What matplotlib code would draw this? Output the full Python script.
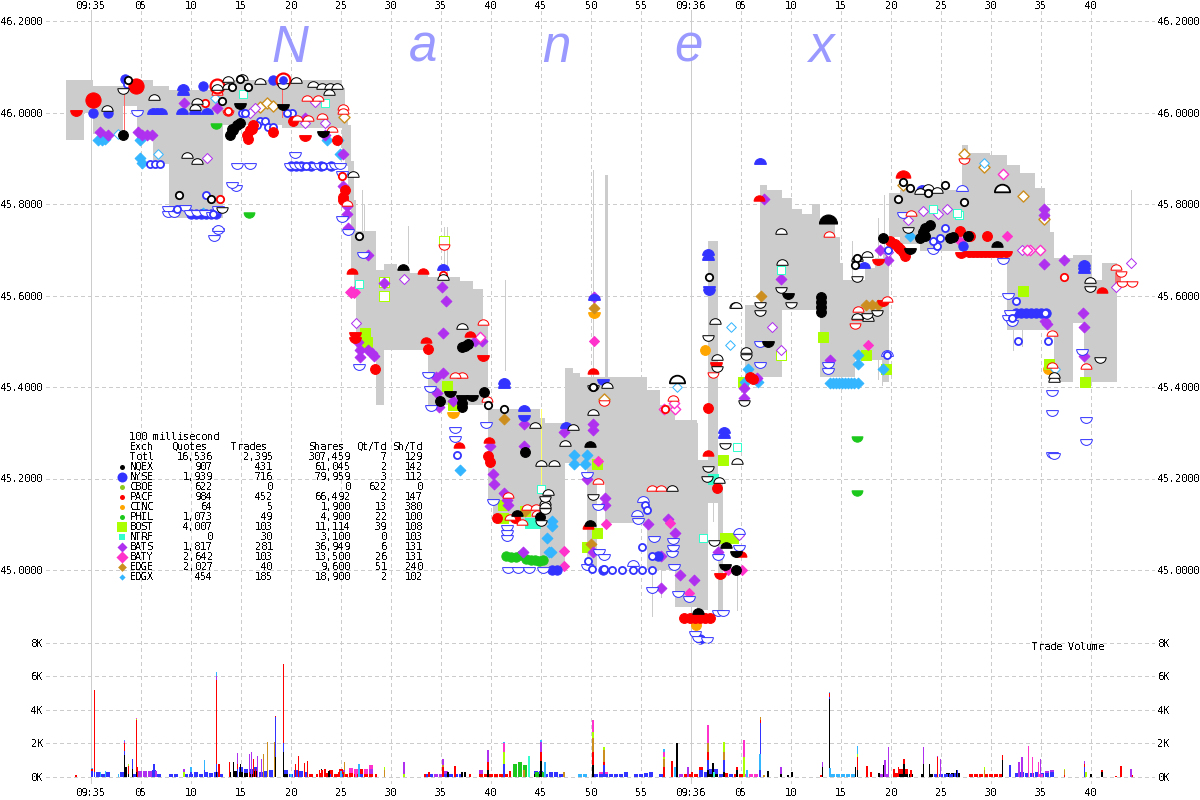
import matplotlib
matplotlib.use('Agg')
import matplotlib.pyplot as plt
import numpy as np
from matplotlib.path import Path

plt.rcParams['font.family'] = ['DejaVu Sans Mono']
plt.rcParams['font.size'] = 7.3
plt.rcParams['text.antialiased'] = False
plt.rcParams['text.hinting_factor'] = 1

# time is seconds after 09:35:00
x_ticks = [0, 5, 10, 15, 20, 25, 30, 35, 40, 45, 50, 55, 60, 65, 70, 75, 80, 85, 90, 95, 100]
x_labels = ['09:35', '05', '10', '15', '20', '25', '30', '35', '40', '45', '50', '55',
            '09:36', '05', '10', '15', '20', '25', '30', '35', '40']
price_ticks = [45.0, 45.2, 45.4, 45.6, 45.8, 46.0, 46.2]
vol_ticks = [0, 2000, 4000, 6000, 8000]

# grey bid/ask band
band_t = [-2.5, -0.7, 0.2, 3.2, 4.6, 6.2, 7.8, 13.2, 19.1, 25.1, 25.4, 25.7, 26, 26.3, 26.5, 28.5, 29.3, 30.6, 31.9,
          33.7, 36.9, 38.2, 39.2, 39.7, 40.2, 44.9, 45.4, 47.4, 48.2, 48.9, 49.6, 50.6, 51.4, 55.6, 56.9, 58.4, 60.6,
          60.7, 61.7, 62.7, 63.2, 64.7, 65.4, 66.9, 67.6, 69.1, 70.1, 71.1, 72.1, 72.9, 74.4, 74.9, 75.2, 76.4, 77.4,
          78.4, 79.2, 79.8, 80.9, 82.9, 87.1, 87.7, 89.9, 91.6, 92.9, 94.4, 95.4, 95.9, 96.3, 98.2, 99.3, 100.1,
          101.1, 102.6, 104.1]
band_hi = [46.07, 46.07, 46.059, 46.059, 46.07, 46.059, 46.05, 46.07, 46.07, 46.053, 46.015, 45.972, 45.895, 45.808,
           45.742, 45.655, 45.669, 45.658, 45.65, 45.64, 45.631, 45.615, 45.545, 45.351, 45.351, 45.332, 45.321,
           45.441, 45.43, 45.421, 45.421, 45.421, 45.421, 45.393, 45.36, 45.327, 45.321, 45.24, 45.72, 45.196, 45.552,
           np.nan, 45.579, 45.841, 45.83, 45.814, 45.79, 45.779, 45.799, 45.757, 45.727, 45.672, 45.633, 45.633, 45.66,
           45.682, 45.693, 45.824, 45.83, 45.83, 45.93, 45.912, 45.907, 45.885, 45.868, 45.835, 45.787, 45.739, 45.682,
           45.688, 45.688, 45.633, 45.67, 45.67, np.nan]
band_lo = [45.939, 45.998, 45.954, 46.015, 45.939, 45.888, 45.77, 45.972, 45.967, 45.917, 45.884, 45.786, 45.655,
           45.611, 45.48, 45.36, 45.48, 45.48, 45.48, 45.36, 45.36, 45.36, 45.382, 45.152, 45.105, 45.007, 45.007,
           45.234, 45.234, 45.234, 45.007, 45.19, 45.103, 45.0, 45.0, 44.919, 44.912, 44.912, 45.147, 44.907, 45.0,
           np.nan, 45.421, 45.421, 45.421, 45.569, 45.569, 45.569, 45.569, 45.421, 45.421, 45.421, 45.421, 45.458,
           45.458, 45.458, 45.41, 45.727, 45.713, 45.698, 45.688, 45.683, 45.683, 45.524, 45.524, 45.524, 45.524,
           45.524, 45.41, 45.539, 45.41, 45.41, 45.41, 45.626, np.nan]
spike_t = [27.1, 27.3, 31.7, 35.3, 35.6, 41.4, 50.2, 51.4, 51.5, 51.6, 76.1, 78.7, 79.3, 104, 92.2, 93.1, 78.7, 79.1,
           56.1, 57, 58.2, 62.2, 64.6]
spike_hi = [45.83, 45.797, 45.752, 45.75, 45.75, 45.634, 45.874, 45.864, 45.864, 45.864, 45.72, 45.769, 45.82, 45.83,
            45.53, 45.53, 45.458, 45.458, 45.0, 45.0, 45.152, 45.152, 45.0]
spike_lo = [45.699, 45.677, 45.67, 45.634, 45.634, 45.437, 45.421, 45.421, 45.421, 45.421, 45.633, 45.677, 45.677,
            45.67, 45.48, 45.49, 45.418, 45.405, 44.9, 44.94, 45.086, 45.108, 44.912]

# NYSE
ny_up_t = [9.2, 9.2, 9.1, 10.4, 11.6, 6.2, 6.6, 7.0, 35.2, 50.3, 41.3, 41.3, 43.3, 61.7, 61.7, 63.3, 63.3, 66.9, 77.3,
           83.1, 47.5, 99.3, 99.3, 99.3]
ny_up_p = [46.055, 46.044, 46.004, 46.004, 46.004, 46.004, 46.004, 46.004, 45.663, 45.596, 45.414, 45.405, 45.355,
           45.694, 45.685, 45.305, 45.294, 45.895, 45.666, 45.834, 45.316, 45.672, 45.664, 45.655]
ny_dn_t = [61.8, 61.8, 43.3, 51.2]
ny_dn_p = [45.615, 45.607, 45.333, 45.41]
ny_dno_t = [4.6, 14.6, 15.9, 14.5, 20.4, 25.1, 25.1, 12.7, 7.7, 7.7, 8.3, 9.4, 9.9, 10.6, 11.4, 12.1, 14.1, 12.3, 12.7,
            19.9, 20.4, 20.9, 21.4, 21.9, 22.4, 22.9, 23.4, 23.9, 24.4, 24.9, 26.8, 36.4, 36.4, 39.5, 33.7, 33.9, 34.0,
            25.7, 27.2, 40.2, 41.6, 41.6, 41.6, 41.7, 42.7, 43.8, 45.2, 49.6, 49.6, 50.7, 50.8, 51.3, 54.7, 56.3, 58.2,
            58.2, 58.1, 58.3, 56.1, 58.7, 59.8, 60.4, 60.7, 61.6, 62.7, 63.2, 62.7, 64.8, 66.9, 66.9, 91.7, 73.7, 73.7,
            91.9, 91.7, 92.1, 99.1, 96.1, 96.1, 96.1, 96.3, 99.5, 99.5, 84.2, 81.2, 91.2]
ny_dno_p = [45.998, 45.884, 45.884, 45.836, 45.907, 45.768, 45.866, 45.79, 45.79, 45.779, 45.779, 45.792, 45.781,
            45.781, 45.781, 45.775, 45.841, 45.725, 45.74, 45.884, 45.884, 45.884, 45.884, 45.884, 45.884, 45.884,
            45.884, 45.884, 45.884, 45.884, 45.444, 45.306, 45.287, 45.317, 45.427, 45.396, 45.355, 45.738, 45.688,
            45.148, 45.091, 45.08, 45.069, 44.999, 44.999, 44.999, 44.999, 45.208, 45.007, 45.137, 45.039, 45.028,
            45.108, 45.067, 45.064, 45.047, 45.036, 45.007, 44.957, 44.948, 44.937, 44.861, 44.85, 44.848, 44.907,
            44.907, 45.028, 45.047, 45.495, 45.447, 45.6, 45.447, 45.436, 45.561, 45.55, 45.539, 45.476, 45.386,
            45.344, 45.251, 45.249, 45.28, 45.327, 45.698, 45.775, 45.676]
ny_upo_t = [12.7, 87.1, 79.6, 55.2, 54.6, 54.2, 64.8]
ny_upo_p = [45.748, 45.834, 45.474, 45.155, 45.124, 45.015, 45.085]
ny_o_t = [3.6, 5.9, 6.4, 6.9, 8.6, 11.5, 12.2, 15.1, 15.4, 16.9, 17.4, 17.7, 18.2, 16.6, 20.1, 19.6, 21.5, 23.2, 36.6,
          49.7, 50.1, 51.3, 52.1, 53.1, 55.1, 56.1, 55.4, 55.6, 54.2, 55.1, 56.1, 92.7, 95.7, 92.1, 92.5, 79.6, 79.7,
          84.9, 84.6, 84.2, 85.4, 95.4]
ny_o_p = [46.063, 45.888, 45.888, 45.888, 45.79, 45.819, 45.779, 46.0, 45.998, 45.982, 45.982, 45.969, 45.969, 45.972,
          46.0, 46.0, 45.884, 45.884, 45.251, 45.02, 45.003, 45.003, 45.0, 45.0, 45.05, 45.03, 45.142, 45.131, 45.0,
          45.0, 45.0, 45.5, 45.5, 45.55, 45.589, 45.47, 45.7, 45.726, 45.709, 45.72, 45.748, 45.561]
ny_f_t = [3.4, 11.2, 18.2, 92.5, 93, 93.5, 94, 94.5, 95, 95.5, 56.7, 87.2, 10, 10.5, 11, 11.5, 12, 12.5, 20, 20.5, 21,
          22, 23, 24, 46.1, 46.6, 51.2, 60.9, 0.2, 1.7]
ny_f_p = [46.074, 46.059, 46.072, 45.561, 45.561, 45.561, 45.561, 45.561, 45.561, 45.561, 45.03, 45.709, 45.779,
          45.779, 45.779, 45.779, 45.779, 45.779, 45.884, 45.884, 45.884, 45.884, 45.884, 45.884, 45.0, 45.0, 45.0,
          44.85, 46.0, 46.0]
ny_top_t = [19.2]
ny_top_p = [46.07]

# NQEX
nq_upo_t = [1.6, 6.3, 9.6, 10.6, 12.6, 13.7, 13.7, 15.1, 16.9, 20.5, 22.2, 23.1, 23.9, 24.6, 23.8, 26.2, 10.4, 10.6,
            37.1, 35.2, 44.4, 48.2, 62.4, 64.4, 51.6, 47.4, 50.2, 62.6, 64.5, 69, 69.1, 76.6, 77.7, 77.6, 76.6, 99.9,
            96.3, 96.3, 65.5, 83.7, 84.6, 82.9, 45.0, 46.3, 58.1, 64.6, 45.7, 45.4, 45.4, 62.8]
nq_upo_p = [46.009, 46.033, 45.908, 45.893, 46.055, 46.074, 46.059, 46.077, 46.068, 46.07, 46.063, 46.059, 46.059,
            46.057, 46.044, 45.866, 46.013, 46.026, 45.534, 45.64, 45.316, 45.312, 45.544, 45.579, 45.405, 45.278,
            45.345, 45.466, 45.579, 45.74, 45.674, 45.556, 45.55, 45.691, 45.683, 45.634, 45.418, 45.427, 45.48,
            45.838, 45.831, 45.829, 45.234, 45.234, 45.179, 45.238, 45.17, 45.148, 45.142, 45.196]
nq_upo_big_t = [58.6, 91.1]
nq_upo_big_p = [45.418, 45.836]
nq_up_t = [31.2, 90.6, 49.9, 63.5, 42.6, 60.7, 49.9]
nq_up_p = [45.663, 45.713, 45.103, 45.055, 45.124, 44.911, 45.276]
nq_up_big_t = [73.7]
nq_up_big_p = [45.768]
nq_dno_t = [19.2, 76.6, 69, 66.9, 66.9, 70, 81.7, 99.9, 100.9, 78.6, 65.5, 65.3, 77.6, 50.2, 61.7, 62.6, 50.2, 62.3,
            45, 45.4, 45.4, 63.4, 61.7, 61.6, 13.1, 3.2]
nq_dno_p = [46.057, 45.635, 45.611, 45.561, 45.579, 45.579, 45.744, 45.615, 45.458, 45.561, 45.465, 45.366, 45.556,
            45.397, 45.508, 45.44, 45.159, 45.059, 45.103, 45.129, 45.155, 45.272, 45.221, 45.2, 45.786, 46.048]
nq_dn_t = [14.9, 19.2, 23.2, 38.1, 37.1, 69.7, 81.9, 67.7, 63.4, 64.5, 35.9]
nq_dn_p = [46.015, 46.013, 45.954, 45.376, 45.376, 45.598, 45.698, 45.495, 45.007, 45.036, 45.385]
nq_o_t = [8.8, 12, 13.1, 14.9, 15.7, 14.1, 26.8, 41.3, 39.7, 61.8, 50.2, 85.4, 81.9, 81.2, 83.7, 80.7, 76.6, 76.4,
          87.3, 3.7]
nq_o_p = [45.819, 45.811, 46.026, 46.074, 46.055, 46.055, 45.729, 45.351, 45.36, 45.64, 45.4, 45.842, 45.834, 45.847,
          45.825, 45.812, 45.681, 45.666, 45.805, 46.07]
nq_f_t = [3.2, 13.9, 14.2, 14.6, 14.9, 14.1, 37.4, 37.1, 37.7, 34.9, 37.1, 37.1, 39.3, 43.4, 44.9, 64.5, 73, 73, 73,
          73, 79.2, 82.9, 83.4, 83.9, 83.2, 83.4, 85.9, 86.2, 87.7]
nq_f_p = [45.95, 45.95, 45.961, 45.972, 45.978, 45.965, 45.489, 45.487, 45.493, 45.37, 45.365, 45.357, 45.39, 45.259,
          45.115, 45.001, 45.596, 45.585, 45.574, 45.563, 45.725, 45.725, 45.747, 45.755, 45.738, 45.731, 45.725,
          45.727, 45.729]

# PACF
pc_up_t = [26.1, 33.2, 37.9, 33.5, 39.8, 36.8, 50.2, 61.7, 66.8, 101.1, 49.7, 65]
pc_up_p = [45.654, 45.654, 45.516, 45.503, 45.284, 45.273, 45.435, 45.255, 45.814, 45.613, 45.096, 45.034]
pc_up_big_t = [81.2]
pc_up_big_p = [45.866]
pc_dn_t = [-1.5, 21.4, 39.2, 62.9, 87, 78.7, 79.2, 62.5, 26.4, 26.4, 87.8, 88.2, 88.6, 89, 89.4, 89.8, 90.2, 90.6, 91,
           91.5]
pc_dn_p = [45.998, 45.945, 45.463, 44.986, 45.688, 45.674, 45.584, 45.447, 45.513, 45.502, 45.691, 45.691, 45.691,
           45.691, 45.691, 45.691, 45.691, 45.691, 45.691, 45.691]
pc_upo_t = [12.6, 21.6, 22.7, 25.2, 25.2, 20.6, 21.7, 23.1, 24.1, 25.6, 39.2, 37.1, 36.4, 39.6, 58.2, 56.1, 57, 41.7,
            43.6, 44.5, 50.7, 41.9, 43.1, 44.6, 73.8, 102.5, 76.6, 76.7, 79.6, 82, 96.1, 99.5, 96.1]
pc_upo_p = [46.044, 46.031, 46.031, 46.013, 46.004, 45.987, 45.987, 45.993, 45.965, 45.803, 45.542, 45.427, 45.427,
            45.374, 45.376, 45.18, 45.18, 45.165, 45.137, 45.137, 45.194, 45.116, 45.105, 45.124, 45.735, 45.663,
            45.554, 45.571, 45.593, 45.781, 45.517, 45.445, 45.447]
pc_dno_t = [13.7, 76.4, 87.3, 103, 103.1, 104.1, 35.3, 51.3, 62.2]
pc_dno_p = [46.0, 45.534, 45.895, 45.648, 45.626, 45.626, 45.707, 45.365, 45.427]
pc_big_t = [0.2, 4.5]
pc_big_p = [46.028, 46.059]
pc_f_t = [15.6, 15.9, 16.2, 15.7, 16.1, 20.2, 18.2, 24.6, 25.2, 25.2, 28.4, 33.7, 61.7, 86.9, 87.9, 89.6, 79.9, 80.4,
          80.9, 81.2, 80.7, 81.4, 65.9, 66.2, 39.7, 39.9, 40.6, 42.4, 62.6, 59.3, 59.9, 60.4, 60.9, 61.4, 61.9, 25.4]
pc_f_p = [45.95, 45.961, 45.972, 45.943, 45.965, 45.982, 45.958, 45.939, 45.816, 45.808, 45.44, 45.483, 45.354, 45.74,
          45.729, 45.729, 45.72, 45.713, 45.702, 45.694, 45.705, 45.687, 45.422, 45.418, 45.25, 45.235, 45.113, 45.113,
          45.18, 44.895, 44.895, 44.895, 44.895, 44.895, 44.895, 45.83]
pc_o_t = [13.7, 11.4, 12.9, 25.1, 97.3, 57.4, 35.2]
pc_o_p = [46.004, 46.02, 45.811, 45.861, 45.64, 45.351, 45.644]
pc_obig_t = [19.2, 12.6]
pc_obig_p = [46.07, 46.057]

# BATS
bs_f_t = [0.9, 1.7, 4.7, 5.1, 5.6, 6.1, 9.3, 12.6, 23.4, 25.2, 25.2, 25.6, 25.7, 21.4, 25.6, 27.7, 29.3, 35.1, 35.5,
          35.2, 38.4, 39.1, 26.7, 26.9, 26.9, 27.7, 28.1, 28.3, 34.6, 34.8, 35.2, 34.5, 50.3, 43.3, 47.3, 50.2, 50.2,
          39.9, 43.3, 36.2, 95.3, 95.3, 67.3, 95.3, 97.3, 99.2, 99.3, 99.3, 73.9, 79.7, 69, 65.3, 65.3, 66.6, 40.2,
          40.3, 41.3, 41.6, 41.7, 43.2, 51.4, 51.4, 50.2, 49.6, 57, 57, 55.7, 57.7, 58.4, 58.9, 60.3, 62.7, 95.4, 95.6,
          78.9]
bs_f_p = [45.958, 45.95, 45.958, 45.95, 45.95, 45.95, 46.02, 46.009, 45.95, 45.91, 45.84, 45.779, 45.748, 45.987,
          45.796, 45.689, 45.628, 45.619, 45.589, 45.519, 45.5, 45.5, 45.498, 45.48, 45.465, 45.48, 45.474, 45.467,
          45.387, 45.357, 45.43, 45.421, 45.597, 45.32, 45.301, 45.32, 45.307, 45.27, 45.27, 45.37, 45.788, 45.775,
          45.811, 45.669, 45.678, 45.561, 45.531, 45.467, 45.46, 45.678, 45.637, 45.376, 45.398, 45.42, 45.21, 45.188,
          45.169, 45.152, 45.142, 45.039, 45.158, 45.142, 45.039, 45.2, 45.03, 44.96, 45.1, 45.111, 45.08, 44.99,
          44.979, 45.04, 45.545, 45.537, 45.7]
bs_o_t = [11.6, 22.4, 15.9, 16.4, 21.4, 23.4, 26.5, 31.3, 68.1, 85.6, 81.7, 83.2, 84.7, 79.7, 104, 102.5, 93.1, 69,
          64.8]
bs_o_p = [45.9, 46.022, 46.0, 46.009, 45.978, 45.978, 45.539, 45.637, 45.531, 45.79, 45.764, 45.784, 45.779, 45.696,
          45.67, 45.618, 45.7, 45.48, 45.077]

# BATY
by_f_t = [50.3, 77.7, 91.6, 50.7, 47.3, 47.3, 51.5, 59.8, 57.9, 63.7, 65.1, 86.9]
by_f_p = [45.5, 45.491, 45.729, 45.239, 45.041, 45.008, 45.1, 44.95, 45.103, 45.0, 45.0, 45.72]
by_big_t = [26.3, 26.0]
by_big_p = [45.608, 45.608]
by_o_t = [94.9, 93.9, 93.6, 91.2, 57.3, 58.4, 58.3, 38.9]
by_o_p = [45.7, 45.7, 45.7, 45.866, 45.351, 45.351, 45.364, 45.51]

# EDGX
ex_f_t = [0.7, 1.1, 1.4, 4.9, 5.1, 4.9, 24.9, 23.6, 24.7, 11.2, 36.9, 46.1, 46.1, 45.6, 45.8, 46, 48.3, 48.3, 49.6, 49.4,
          73.9, 74.2, 74.5, 74.8, 75.1, 75.4, 75.7, 76, 76.3, 76.7, 76.7, 76.7, 79.2, 81.9, 65.7, 65.4, 66.7]
ex_f_p = [45.939, 45.939, 45.943, 45.9, 45.889, 45.939, 45.91, 45.939, 45.939, 45.781, 45.219, 45.108, 45.097, 45.071,
          45.039, 45.039, 45.251, 45.232, 45.251, 45.232, 45.408, 45.408, 45.408, 45.408, 45.408, 45.408, 45.408,
          45.408, 45.408, 45.408, 45.47, 45.45, 45.44, 45.729, 45.44, 45.41, 45.41]
ex_o_t = [6.7, 2.7, 12.4, 64, 63.9, 58.6, 96.4, 89.3]
ex_o_p = [45.91, 45.954, 46.031, 45.531, 45.491, 45.4, 45.44, 45.89]

# EDGE
eg_f_t = [41.3, 67, 77.5, 78.1, 78.7, 50, 43.4, 50.3]
eg_f_p = [45.329, 45.6, 45.58, 45.58, 45.58, 45.057, 45.13, 45.572]
eg_o_t = [16.9, 17.6, 18.2, 25.3, 87.3, 89.3, 95.3, 51.3, 81.2, 93.2]
eg_o_p = [46.013, 46.02, 46.015, 45.99, 45.91, 45.88, 45.768, 45.374, 45.841, 45.818]

# BOST
bo_f_t = [27.4, 27.6, 35.6, 36.2, 50.6, 49.6, 73.2, 93.2, 99.4, 79.5, 77.5, 95.8, 63.2, 63.4, 64.2, 50.6, 41.2, 41.2,
          43.4, 65.2]
bo_f_p = [45.519, 45.498, 45.403, 45.36, 45.08, 45.05, 45.51, 45.61, 45.41, 45.44, 45.47, 45.451, 45.241, 45.07, 45.07,
          45.232, 45.142, 45.113, 45.13, 45.41]
bo_o_t = [35.3, 29.3, 29.3, 69]
bo_o_p = [45.72, 45.6, 45.63, 45.47]

# NTRF
nt_o_t = [26.8, 64.6, 45, 61.2, 15.2, 23.4, 69, 84.2, 86.8, 86.6]
nt_o_p = [45.626, 45.268, 45.176, 45.07, 46.04, 46.02, 45.655, 45.79, 45.775, 45.78]
nt_f_t = [43.9, 44.4, 62.2]
nt_f_p = [45.103, 45.103, 45.2]

# PHIL and CINC
ph_dn_t = [12.5, 15.8, 76.6, 76.6]
ph_dn_p = [45.97, 45.777, 45.286, 45.168]
ph_f_t = [41.5, 42, 42.5, 43, 43.5, 44, 44.4, 44.8, 45.2]
ph_f_p = [45.03, 45.028, 45.028, 45.032, 45.024, 45.021, 45.021, 45.019, 45.021]
ci_dn_t = [50.3, 36.2]
ci_dn_p = [45.557, 45.338]
ci_f_t = [60.5, 61.4, 95.7]
ci_f_p = [44.879, 45.48, 45.44]

# trade volume, spikes by exchange (1 tick wide)
v_nq_t = [3.37, 3.5, 3.73, 4.13, 4.57, 12.53, 13.9, 14.23, 14.97, 18.47, 19.27, 23.05, 23.8, 35.7, 37.1, 37.4, 39.7,
          45, 50.2, 58.6, 61.7, 62.2, 63.3, 64.6, 66.95, 67.7, 69, 69.7, 70.1, 73.15, 73.83, 76.45, 76.63, 78.8, 79.3,
          81.3, 83.1, 83.23, 83.85, 86.6, 91.13, 100, 101.1]
v_nq_v = [1300, 600, 200, 500, 300, 300, 300, 900, 800, 1200, 1500, 500, 350, 300, 300, 300, 400, 950, 700, 2000, 400,
          850, 300, 400, 300, 350, 200, 100, 300, 600, 4650, 600, 400, 250, 700, 800, 200, 800, 800, 400, 1000, 200, 300]
v_ny_t = [0.1, 0.33, 3.37, 4.13, 6.3, 10, 11.33, 12.53, 14.63, 18.47, 19.27, 41.3, 51.3, 61.7, 63.3, 66.9, 66.95, 73.83,
          86.63, 91.9, 99.33]
v_ny_v = [350, 300, 250, 600, 750, 300, 400, 500, 500, 2400, 500, 800, 700, 600, 700, 400, 2900, 150, 400, 700, 600]
v_pc_t = [-1.5, 0.1, 0.33, 3.37, 3.73, 4.57, 4.67, 12.53, 12.8, 13.87, 14.63, 15.83, 16.23, 16.43, 18.47, 19.27, 20.43,
          20.73, 21.37, 21.63, 21.85, 22.6, 22.85, 23.1, 23.4, 24.1, 24.8, 25.3, 28.5, 33.4, 33.8, 35.2, 36.4, 37.9,
          39.7, 41.9, 45, 50.2, 51.3, 57.3, 58.1, 60.1, 61.7, 64.6, 66.95, 73, 73.83, 76.63, 77.6, 78, 80.3, 80.75,
          81.3, 82, 84.63, 91.13, 97.33, 99.33, 101.1, 102.5, 103, 104.1]
v_pc_v = [100, 150, 4900, 450, 450, 3100, 600, 5000, 800, 900, 300, 300, 1100, 450, 50, 4750, 800, 1250, 850, 950, 200,
          200, 400, 400, 500, 350, 300, 300, 150, 200, 300, 600, 650, 200, 500, 350, 550, 800, 200, 600, 950, 300, 500,
          200, 200, 100, 200, 800, 650, 300, 450, 600, 300, 400, 1200, 300, 100, 200, 100, 50, 650, 100]
v_gr_t = [43.8, 62.3]
v_gr_v = [1250, 300]
v_eg_t = [17.23, 17.67, 18.33, 25.33, 29.33, 35.2, 43.3, 47.3, 50.2, 51.3, 57.3, 61.7, 63.3, 66.95, 67.3, 89.33, 97.33]
v_eg_v = [1350, 2100, 2100, 900, 400, 100, 400, 300, 800, 700, 500, 500, 500, 200, 100, 400, 300]
v_bo_t = [3.73, 4.57, 9.3, 29.33, 31.3, 41.3, 50.2, 51.3, 57.3, 63.3, 65.3, 76.63, 89.33, 97.33, 99.5]
v_bo_v = [150, 50, 300, 200, 200, 700, 400, 200, 100, 600, 1200, 200, 200, 100, 300]
v_bs_t = [3.37, 6.5, 9.3, 12.53, 14.63, 15.83, 16.03, 16.63, 17.03, 25.3, 31.3, 35.2, 39.7, 45, 59.7, 69, 73.15, 79.4,
          79.73, 83.23, 84.63, 84.97, 92.8, 93.1, 94.97, 99.33, 104]
v_bs_v = [150, 150, 200, 250, 650, 1100, 1500, 1250, 1050, 100, 700, 350, 700, 600, 600, 400, 300, 1000, 1800, 1000, 50,
          1100, 900, 1200, 1100, 150, 500]
v_by_t = [4.57, 26.5, 41.3, 50.2, 57.3, 61.7, 65.3, 93.73, 94.15, 94.75]
v_by_v = [100, 450, 500, 700, 300, 1100, 1000, 1850, 1200, 900]
v_ex_t = [0.1, 0.97, 1.43, 2.73, 3.37, 10, 11.33, 12.53, 20, 25, 26.8, 41.3, 45, 45.4, 57.3, 58.4, 58.6, 65.6, 66.9,
          73.83, 73.9, 76.63]
v_ex_v = [50, 300, 350, 200, 50, 300, 600, 200, 200, 350, 750, 100, 100, 900, 200, 600, 50, 400, 1000, 100, 550, 450]

# trade volume, low blocks by exchange (several ticks wide)
lo_ny_t = [0.7, 1.2, 1.7, 3.1, 4.3, 4.8, 6.3, 6.8, 8, 8.5, 9.5, 10, 10.5, 11, 11.5, 12, 12.5, 13, 15, 15.5, 16, 16.5,
           17, 17.5, 18, 19.5, 20, 20.5, 21, 21.5, 24, 25, 27, 33.5, 34, 35.5, 36, 36.5, 37, 44.5, 45, 45.5, 46, 46.5,
           47, 50.5, 51, 51.5, 52, 52.5, 53, 53.5, 54.5, 55, 55.5, 56, 57, 61, 61.5, 62, 62.5, 63, 64, 84.5, 85, 85.5,
           86, 86.5, 92.6, 93.1, 93.6, 94.1, 94.6, 95.1, 95.6, 96.1]
lo_ny_v = [300, 200, 300, 300, 200, 200, 400, 200, 200, 200, 200, 200, 300, 200, 300, 250, 300, 200, 300, 250, 300,
           250, 300, 350, 400, 200, 200, 400, 350, 300, 200, 200, 200, 150, 150, 150, 200, 150, 150, 200, 200, 200,
           300, 300, 200, 200, 200, 200, 200, 200, 200, 300, 200, 200, 250, 300, 200, 400, 300, 300, 300, 200, 200,
           200, 200, 200, 200, 250, 250, 300, 250, 250, 300, 250, 250, 300]
lo_nq_t = [14.5, 15, 15.5, 16, 16.5, 19.5, 44.5, 45, 62, 62.5, 81, 81.5, 82, 84, 85.7, 86.2, 86.7]
lo_nq_v = [350, 300, 250, 200, 350, 200, 150, 150, 200, 200, 200, 200, 200, 150, 250, 250, 250]
lo_pc_t = [22, 23, 23.5, 24, 24.5, 25, 25.5, 26, 26.5, 27, 27.5, 28, 39, 39.5, 40, 40.5, 41, 41.5, 59.5, 60, 60.5, 61,
           63.5, 64.5, 65, 80.5, 81, 81.5, 88, 88.5, 89, 89.5, 90, 90.5, 91]
lo_pc_v = [150, 250, 250, 200, 200, 250, 200, 250, 200, 250, 200, 200, 200, 200, 200, 200, 200, 200, 200, 200, 200,
           200, 250, 200, 200, 250, 250, 250, 200, 200, 200, 200, 200, 200, 200]
lo_bs_t = [4.9, 5.4, 5.9, 6.4, 28, 34.5, 35, 35.5, 39, 59, 79, 79.5, 95.6, 96.1]
lo_bs_v = [350, 350, 350, 350, 300, 200, 200, 200, 200, 200, 150, 150, 100, 100]
lo_ex_t = [48.9, 49.4, 74.2, 74.7, 75.2, 75.7, 76.2]
lo_ex_v = [200, 200, 150, 200, 150, 200, 150]
lo_gr_t = [42.4, 42.9, 43.4, 44.6, 45.1]
lo_gr_v = [800, 900, 700, 300, 300]
lo_by_t = [26, 26.5, 27.5, 28, 51, 51.5, 65.5, 66, 66.5, 95]
lo_by_v = [300, 300, 300, 200, 100, 100, 200, 200, 200, 200]

# table under the chart title
exch_names = ['Totl', 'NQEX', 'NYSE', 'CBOE', 'PACF', 'CINC', 'PHIL', 'BOST', 'NTRF', 'BATS', 'BATY', 'EDGE', 'EDGX']
exch_quotes = ['16,536', '907', '1,939', '622', '984', '64', '1,073', '4,007', '0', '1,817', '2,642', '2,027', '454']
exch_trades = ['2,395', '431', '716', '0', '452', '5', '49', '103', '30', '281', '103', '40', '185']
exch_shares = ['307,459', '61,045', '79,959', '0', '66,492', '1,900', '4,900', '11,114', '3,100', '36,949', '13,500',
               '9,600', '18,900']
exch_qt = ['7', '2', '3', '622', '2', '13', '22', '39', '0', '6', '26', '51', '2']
exch_sh = ['129', '142', '112', '0', '147', '380', '100', '108', '103', '131', '131', '240', '102']

BLACK = '#000000'
BLUE = '#3333ff'
RED = '#ff0000'
GREEN = '#1cc81c'
ORANGE = '#ffa500'
LIME = '#aaff00'
AQUA = '#33ffcc'
PURPLE = '#b030f0'
PINK = '#ff33cc'
BROWN = '#cc8e1e'
CYAN = '#33b5ff'
CBOE = '#8cc81e'
GREY = '#cccccc'

arc = Path.wedge(0, 180)
DOME = Path(arc.vertices - [0, 0.5], arc.codes)
arc = Path.wedge(180, 360)
BOWL = Path(arc.vertices + [0, 0.5], arc.codes)


def put(ax, t, p, marker, color, filled=True, size=52, lw=0.72):
    ax.scatter(t, p, marker=marker, s=size, facecolors=color if filled else 'white', edgecolors=color,
               linewidths=lw, antialiased=False, zorder=4, clip_on=False)


def stack_bars(ax, series, width):
    tops = {}
    for t_list, v_list, color in series:
        for t, v in zip(t_list, v_list):
            base = tops.get(t, 0)
            ax.bar(t, v, bottom=base, width=width, color=color, linewidth=0, antialiased=False, zorder=3)
            tops[t] = base + v


fig = plt.figure(figsize=(12, 8), dpi=100)
ax = fig.add_axes([46 / 1200, 1 - 784 / 800, 1109 / 1200, 774 / 800])
ax.set_xlim(-4.5, 106.4)
ax.set_ylim(46 - (784 - 112.5) * 0.2 / 91.5, 46 + 102.5 * 0.2 / 91.5)
for s in ax.spines.values():
    s.set_visible(False)
ax.set_xticks(x_ticks)
ax.set_xticklabels(x_labels)
ax.set_yticks(price_ticks)
ax.set_yticklabels(['%.4f' % v for v in price_ticks])
ax.tick_params(axis='y', length=0, labelleft=True, labelright=True, pad=2)
ax.tick_params(axis='x', length=0, top=False, bottom=False, labeltop=True, labelbottom=True, pad=3)
for tick in ax.xaxis.get_major_ticks():
    tick.label2.set_verticalalignment('center')
ax.grid(True, color=GREY, linewidth=0.72, linestyle=(0, (4, 3)), antialiased=False, zorder=0)
ax.set_axisbelow(True)
ax.axvline(0, color=GREY, linewidth=0.5, zorder=1, antialiased=False)
ax.axvline(60, color=GREY, linewidth=0.5, zorder=1, antialiased=False)

ax.fill_between(band_t, band_lo, band_hi, step='post', color=GREY, linewidth=0, zorder=1, antialiased=False)
ax.vlines(spike_t, spike_lo, spike_hi, color=GREY, linewidth=0.5, zorder=1, antialiased=False)
ax.vlines([3.3, 19.1], [45.952, 45.99], [46.048, 46.059], color='#ff6666', linewidth=0.5, zorder=2, antialiased=False)
ax.vlines([45.0], [45.176], [45.351], color='#ffff66', linewidth=0.5, zorder=2, antialiased=False)
ax.vlines([102.7], [45.626], [45.65], color='#ee7777', linewidth=3, zorder=2, antialiased=False)

# quotes and trades, one layer per exchange
put(ax, ph_dn_t, ph_dn_p, BOWL, GREEN, True, 60)
put(ax, ph_f_t, ph_f_p, 'o', GREEN, True, 45)
put(ax, ci_dn_t, ci_dn_p, BOWL, ORANGE, True, 70)
put(ax, ci_f_t, ci_f_p, 'o', ORANGE, True, 50)
put(ax, bo_f_t, bo_f_p, 's', LIME, True, 50)
put(ax, bo_o_t, bo_o_p, 's', LIME, False, 45)
put(ax, eg_f_t, eg_f_p, 'D', BROWN, True, 30)
put(ax, eg_o_t, eg_o_p, 'D', BROWN, False, 32, 1.0)
put(ax, ex_f_t, ex_f_p, 'D', CYAN, True, 30)
put(ax, ex_o_t, ex_o_p, 'D', CYAN, False, 24)
put(ax, bs_f_t, bs_f_p, 'D', PURPLE, True, 30)
put(ax, bs_o_t, bs_o_p, 'D', PURPLE, False, 26)
put(ax, by_big_t, by_big_p, 'D', PINK, True, 36)
put(ax, by_f_t, by_f_p, 'D', PINK, True, 26)
put(ax, by_o_t, by_o_p, 'D', PINK, False, 28, 1.0)
put(ax, nt_o_t, nt_o_p, 's', AQUA, False, 34)
put(ax, nt_f_t, nt_f_p, 's', AQUA, True, 50)
put(ax, ny_f_t, ny_f_p, 'o', BLUE, True, 45)
put(ax, ny_up_t, ny_up_p, DOME, BLUE, True, 70)
put(ax, ny_dn_t, ny_dn_p, BOWL, BLUE, True, 70)
put(ax, ny_dno_t, ny_dno_p, BOWL, BLUE, False, 70)
put(ax, ny_upo_t, ny_upo_p, DOME, BLUE, False, 70)
put(ax, ny_o_t, ny_o_p, 'o', BLUE, False, 26, 1.3)
put(ax, pc_big_t, pc_big_p, 'o', RED, True, 120)
put(ax, pc_f_t, pc_f_p, 'o', RED, True, 50)
put(ax, pc_up_t, pc_up_p, DOME, RED, True, 60)
put(ax, pc_up_big_t, pc_up_big_p, DOME, RED, True, 110)
put(ax, pc_dn_t, pc_dn_p, BOWL, RED, True, 70)
put(ax, pc_upo_t, pc_upo_p, DOME, RED, False, 60)
put(ax, pc_dno_t, pc_dno_p, BOWL, RED, False, 60)
put(ax, pc_obig_t, pc_obig_p, 'o', RED, False, 100, 1.6)
put(ax, pc_o_t, pc_o_p, 'o', RED, False, 28, 1.3)
put(ax, nq_f_t, nq_f_p, 'o', BLACK, True, 50)
put(ax, nq_up_t, nq_up_p, DOME, BLACK, True, 65)
put(ax, nq_up_big_t, nq_up_big_p, DOME, BLACK, True, 170)
put(ax, nq_dn_t, nq_dn_p, BOWL, BLACK, True, 70)
put(ax, nq_upo_t, nq_upo_p, DOME, BLACK, False, 65)
put(ax, nq_upo_big_t, nq_upo_big_p, DOME, BLACK, False, 120, 1.3)
put(ax, nq_dno_t, nq_dno_p, BOWL, BLACK, False, 65)
put(ax, nq_o_t, nq_o_p, 'o', BLACK, False, 28, 1.3)
put(ax, ny_top_t, ny_top_p, 'o', BLUE, True, 30)

# volume panel, same x scale
vol = fig.add_axes([46 / 1200, 1 - 784 / 800, 1109 / 1200, 144 / 800], sharex=ax, facecolor='none')
vol.set_ylim(-418, 8179)
for s in vol.spines.values():
    s.set_visible(False)
vol.set_yticks(vol_ticks)
vol.set_yticklabels(['%dK' % (v // 1000) for v in vol_ticks])
vol.tick_params(axis='y', length=0, labelleft=True, labelright=True, pad=2)
vol.tick_params(axis='x', length=0, labelbottom=False, labeltop=False)
vol.grid(True, axis='y', color=GREY, linewidth=0.72, linestyle=(0, (4, 3)), antialiased=False)
vol.set_axisbelow(True)
stack_bars(vol, [(lo_nq_t, lo_nq_v, BLACK), (lo_ny_t, lo_ny_v, BLUE), (lo_pc_t, lo_pc_v, RED),
                 (lo_gr_t, lo_gr_v, GREEN), (lo_bs_t, lo_bs_v, PURPLE), (lo_by_t, lo_by_v, PINK),
                 (lo_ex_t, lo_ex_v, CYAN)], 0.45)
stack_bars(vol, [(v_nq_t, v_nq_v, BLACK), (v_ny_t, v_ny_v, BLUE), (v_pc_t, v_pc_v, RED), (v_gr_t, v_gr_v, AQUA),
                 (v_eg_t, v_eg_v, BROWN), (v_bo_t, v_bo_v, LIME), (v_bs_t, v_bs_v, PURPLE), (v_by_t, v_by_v, PINK),
                 (v_ex_t, v_ex_v, CYAN)], 0.12)

# overlay in pixels for the texts that sit on the chart
ov = fig.add_axes([0, 0, 1, 1], facecolor='none')
ov.set_xlim(0, 1200)
ov.set_ylim(800, 0)
ov.axis('off')

for letter, px in zip('Nanex', [290, 423, 556, 688, 821]):
    ov.text(px, 62, letter, family='Liberation Sans', style='italic', fontsize=37, color='#9999ff', ha='center',
            va='baseline', antialiased=True)

ov.text(129, 437, '100 millisecond', va='center')
ov.text(130, 447, 'Exch', va='center')
ov.text(208, 447, 'Quotes', va='center', ha='right')
ov.text(267, 447, 'Trades', va='center', ha='right')
ov.text(345, 447, 'Shares', va='center', ha='right')
ov.text(387, 447, 'Qt/Td', va='center', ha='right')
ov.text(423, 447, 'Sh/Td', va='center', ha='right')
for i, name in enumerate(exch_names):
    y = 457 + 10 * i
    ov.text(130, y, name, va='center')
    ov.text(213, y, exch_quotes[i], va='center', ha='right')
    ov.text(273, y, exch_trades[i], va='center', ha='right')
    ov.text(351, y, exch_shares[i], va='center', ha='right')
    ov.text(387, y, exch_qt[i], va='center', ha='right')
    ov.text(423, y, exch_sh[i], va='center', ha='right')

key_marks = ['o', 'o', 'o', 'o', 'o', 'o', 's', 's', 'D', 'D', 'D', 'D']
key_colors = [BLACK, BLUE, CBOE, RED, ORANGE, GREEN, LIME, AQUA, PURPLE, PINK, BROWN, CYAN]
key_sizes = [13, 52, 13, 13, 13, 13, 60, 13, 26, 38, 20, 10]
for i in range(12):
    ov.scatter([122], [467 + 10 * i], marker=key_marks[i], s=key_sizes[i], color=key_colors[i], linewidths=0,
               antialiased=False, zorder=5)

ov.text(1032, 647, 'Trade Volume', va='center')

fig.savefig('out.png', dpi=100)
